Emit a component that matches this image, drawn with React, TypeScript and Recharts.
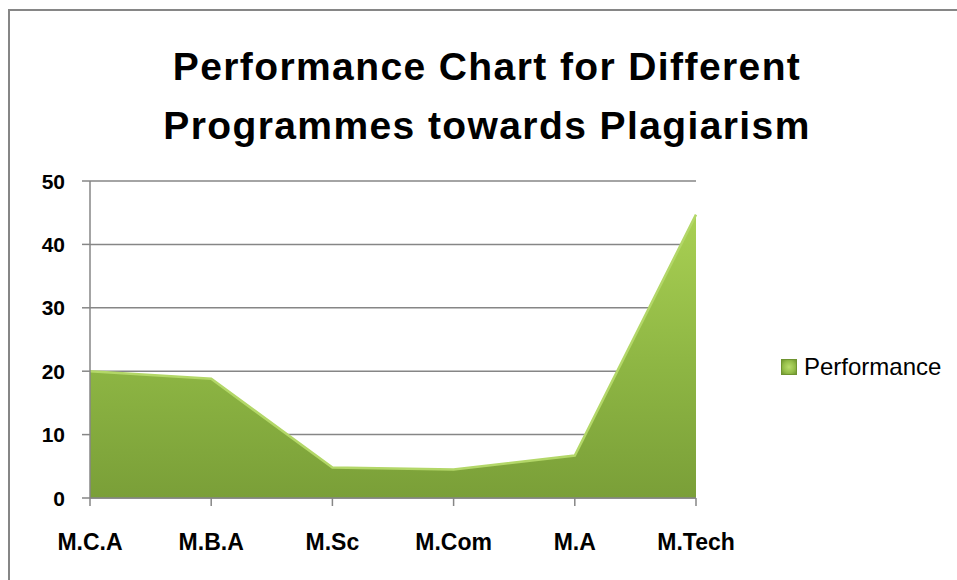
import { Area, AreaChart, CartesianGrid, Legend, XAxis, YAxis } from 'recharts';

// Programme categories and their plagiarism performance scores
const programmes = ['M.C.A', 'M.B.A', 'M.Sc', 'M.Com', 'M.A', 'M.Tech'];
const performance = [20, 18.8, 4.8, 4.5, 6.7, 44.7];
const yTicks = [0, 10, 20, 30, 40, 50];

const data = programmes.map((name, i) => ({ name, Performance: performance[i] }));

const FONT = '"Liberation Sans", Arial, sans-serif';
const AXIS = '#868686';

const LegendBox = () => (
  <div style={{ display: 'flex', alignItems: 'center', height: 30, fontFamily: FONT, fontSize: 24, color: '#000' }}>
    <span
      style={{
        width: 14,
        height: 14,
        marginRight: 7,
        background: 'radial-gradient(circle, #b9dc6c 0%, #94bd48 60%, #6f9430 100%)',
        border: '1px solid #6f9430',
        display: 'inline-block',
      }}
    />
    Performance
  </div>
);

const XTick = (props: any) => {
  const { x, y, payload } = props;
  return (
    <text x={x} y={y + 42} textAnchor="middle" fontFamily={FONT} fontWeight="bold" fontSize={23} fill="#000">
      {payload.value}
    </text>
  );
};

const YTick = (props: any) => {
  const { x, y, payload } = props;
  return (
    <text x={x - 15} y={y + 7.5} textAnchor="end" fontFamily={FONT} fontWeight="bold" fontSize={21} fill="#000">
      {payload.value}
    </text>
  );
};

export default function App() {
  return (
    <div style={{ position: 'absolute', left: 0, top: 0, width: 957, height: 580, background: '#fff', overflow: 'hidden' }}>
      <div
        style={{
          position: 'absolute',
          left: 8,
          top: 9,
          width: 980,
          height: 600,
          borderTop: `2px solid ${AXIS}`,
          borderLeft: `2px solid ${AXIS}`,
        }}
      />
      <div
        style={{
          position: 'absolute',
          left: 0,
          top: 37,
          width: 974,
          textAlign: 'center',
          fontFamily: FONT,
          fontWeight: 'bold',
          fontSize: 39,
          letterSpacing: 1.4,
          lineHeight: '59px',
        }}
      >
        Performance Chart for Different
        <br />
        Programmes towards Plagiarism
      </div>
      <div style={{ position: 'absolute', left: 0, top: 0 }}>
        <AreaChart width={957} height={580} data={data} margin={{ top: 181, right: 261, left: 40, bottom: 52 }}>
          <defs>
            <linearGradient id="perfFill" x1="0" y1="0" x2="0" y2="1">
              <stop offset="0%" stopColor="#a9d053" />
              <stop offset="55%" stopColor="#8db543" />
              <stop offset="100%" stopColor="#7a9f38" />
            </linearGradient>
          </defs>
          <CartesianGrid horizontal vertical={false} stroke={AXIS} strokeWidth={1.5} />
          <XAxis
            dataKey="name"
            height={30}
            stroke={AXIS}
            strokeWidth={1.5}
            tickSize={8}
            tick={<XTick />}
          />
          <YAxis
            width={50}
            domain={[0, 50]}
            ticks={yTicks}
            stroke={AXIS}
            strokeWidth={1.5}
            tickSize={8}
            tick={<YTick />}
          />
          <Legend
            layout="horizontal"
            verticalAlign="middle"
            content={<LegendBox />}
            wrapperStyle={{ position: 'absolute', left: 781, top: 352, width: 176 }}
          />
          <Area
            type="linear"
            dataKey="Performance"
            fill="url(#perfFill)"
            fillOpacity={1}
            stroke="#b3d768"
            strokeWidth={2.5}
            isAnimationActive={false}
            dot={false}
            activeDot={false}
          />
        </AreaChart>
      </div>
    </div>
  );
}
